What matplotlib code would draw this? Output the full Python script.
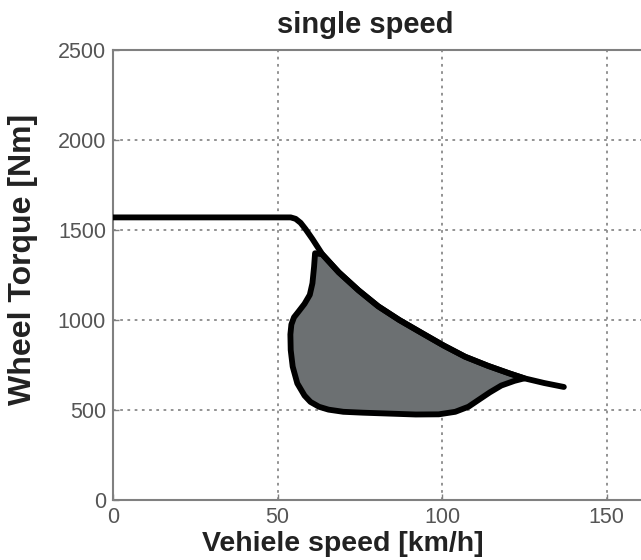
import matplotlib
matplotlib.use("Agg")
import matplotlib.pyplot as plt

# ---- data ----
envelope_speed = [0, 54, 55.5, 57, 58.5, 60.6, 63.6, 68.6, 74.6, 80.6, 87, 94, 100.5, 107, 114, 120.5, 125, 131, 137]
envelope_torque = [1570, 1570, 1562, 1540, 1505, 1450, 1365, 1265, 1165, 1076, 1000, 926, 858, 796, 745, 703, 676, 650, 628]

region_speed = [61.4, 63.6, 68.6, 74.6, 80.6, 87, 94, 100.5, 107, 114, 120.5, 125,
                122, 118, 114.5, 111, 108, 104, 99, 92, 84, 76, 70, 65.5, 62.6,
                60, 58.2, 56, 54.6, 54, 53.9, 54.2, 55, 56.3, 58.2, 59.8, 60.6, 61.1, 61.4]
region_torque = [1371, 1365, 1265, 1165, 1076, 1000, 926, 858, 796, 745, 703, 676,
                 662, 636, 598, 555, 518, 490, 476, 475, 480, 485, 490, 502, 518,
                 545, 580, 648, 741, 833, 920, 975, 1015, 1045, 1090, 1140, 1204, 1296, 1371]

x_ticks = [0, 50, 100, 150]
y_ticks = [0, 500, 1000, 1500, 2000, 2500]

title = "single speed"
x_label = "Vehiele speed [km/h]"
y_label = "Wheel Torque [Nm]"

plt.rcParams['font.family'] = ['Liberation Sans', 'DejaVu Sans']

fig = plt.figure(figsize=(6.41, 5.60), dpi=100)
W, H = 641, 560
ax = fig.add_axes([113 / W, 60 / H, 543 / W, 450 / H])
ax.set_xlim(0, 165)
ax.set_ylim(0, 2500)

ax.fill(region_speed, region_torque, facecolor='#6c7072', edgecolor='black',
        linewidth=4.2, joinstyle='round', zorder=3)
ax.plot(envelope_speed, envelope_torque, color='black', linewidth=4.2,
        solid_joinstyle='round', solid_capstyle='round', zorder=4)

ax.set_xticks(x_ticks)
ax.set_yticks(y_ticks)
ax.grid(True, linestyle=(0, (1.5, 2.5)), color='#8a8a8a', linewidth=1.3, zorder=1)
ax.set_axisbelow(True)
ax.tick_params(direction='in', length=4, width=1, color='#808080',
               labelsize=15.5, labelcolor='#555555', pad=5)
for s in ax.spines.values():
    s.set_color('#808080')
    s.set_linewidth(1.5)

fig.text(365 / W, 1 - 25 / H, title, ha='center', va='center',
         fontsize=21, fontweight='bold', color='#222222')
fig.text(343 / W, 1 - 544 / H, x_label, ha='center', va='center',
         fontsize=20.5, fontweight='bold', color='#222222')
fig.text(23 / W, 1 - 259 / H, y_label, ha='center', va='center', rotation=90,
         fontsize=23, fontweight='bold', color='#222222')

fig.savefig("out.png", dpi=100)
